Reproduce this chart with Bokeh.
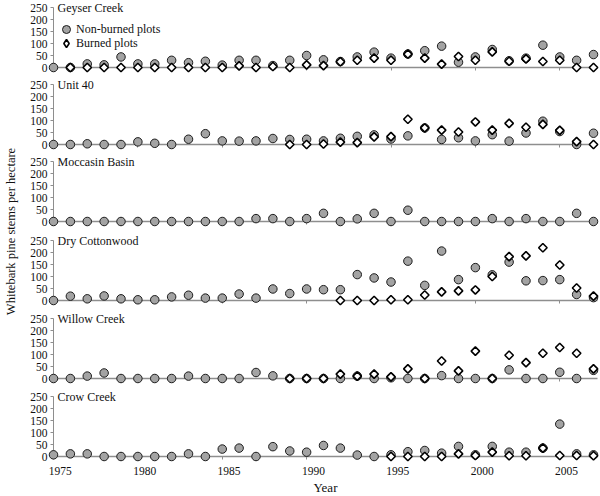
import math
import numpy as np
from bokeh.plotting import figure
from bokeh.models import (Range1d, LinearAxis, FixedTicker, Label, Legend, LegendItem,
                          ColumnDataSource, CustomJSTickFormatter)
from bokeh.layouts import column, row
from bokeh.embed import file_html
from bokeh.resources import INLINE

# ---------------- data ----------------
years = list(range(1975, 2008))
sites = ["Geyser Creek", "Unit 40", "Moccasin Basin", "Dry Cottonwood", "Willow Creek", "Crow Creek"]
y_ticks = [0, 50, 100, 150, 200, 250]
x_ticks = [1975, 1980, 1985, 1990, 1995, 2000, 2005]
legend_labels = ["Non-burned plots", "Burned plots"]

geyser_nonburned = [0, 0, 15, 11, 44, 15, 15, 30, 20, 26, 10, 30, 30, 8, 30, 50, 32, 25, 44, 64,
                    39, 56, 70, 89, 22, 44, 75, 28, 39, 93, 44, 30, 54]
geyser_burned = [None, 0, 0, 0, 0, 0, 0, 0, 0, 0, 0, 7, 0, 4, 0, 11, 8, 24, 30, 39,
                 30, 56, 39, 14, 46, 30, 65, 26, 36, 25, 30, 0, 0]

unit40_nonburned = [0, 0, 3, 0, 0, 11, 5, 0, 22, 45, 15, 14, 15, 25, 21, 22, 15, 26, 34, 40,
                    23, 36, 69, 21, 28, 15, 41, 14, 48, 97, 54, 0, 47]
unit40_burned = [None] * 14 + [0, 0, 2, 10, 8, 32, 33, 105, 69, 60, 52, 94, 60, 88, 72, 84,
                               59, 12, 0]

moccasin_nonburned = [0] * 12 + [12, 12, 0, 12, 34, 0, 11, 34, 0, 47, 0, 0, 0, 0, 12, 0, 12,
                                 0, 0, 34, 0]
moccasin_burned = [None] * 33

drycotton_nonburned = [0, 18, 7, 19, 7, 3, 3, 15, 22, 10, 10, 27, 10, 48, 29, 48, 45, 45, 108,
                       94, 77, 164, 63, 206, 87, 137, 107, 160, 82, 83, 87, 25, 12]
drycotton_burned = [None] * 17 + [0, 0, 0, 3, 3, 23, 36, 40, 44, 100, 183, 186, 220, 148, 52, 18]

willow_nonburned = [0, 0, 10, 23, 0, 0, 0, 0, 10, 0, 0, 0, 25, 11, 0, 0, 0, 0, 10, 0, 3, 0, 0,
                    12, 0, 0, 0, 36, 0, 0, 26, 0, 34]
willow_burned = [None] * 14 + [0, 0, 0, 18, 10, 18, 7, 40, 0, 73, 32, 114, 0, 97, 66, 105, 129,
                               105, 40]

crow_nonburned = [7, 11, 11, 0, 0, 0, 0, 0, 11, 0, 31, 35, 0, 41, 23, 18, 46, 35, 6, 0, 7, 20,
                  25, 14, 42, 7, 42, 18, 18, 35, 135, 11, 7]
crow_burned = [None] * 20 + [0, 0, 0, 0, 11, 4, 18, 3, 3, 35, 4, 4, 3]

nonburned = [geyser_nonburned, unit40_nonburned, moccasin_nonburned, drycotton_nonburned,
             willow_nonburned, crow_nonburned]
burned = [geyser_burned, unit40_burned, moccasin_burned, drycotton_burned, willow_burned,
          crow_burned]

# ---------------- styling / geometry ----------------
FONT = "Liberation Serif"
FILL_GRAY = "#a3a3a3"
AXIS_GRAY = "#8e8e8e"
TITLE_COL_W = 20
PANEL_W = 580
AXIS_LEFT_PX = 33
PX_PER_YEAR = 16.875
K = 60.0 / 250.0                      # px per stem unit
heights = [77, 77, 78, 78, 78, 108]
zero_from_top = [67, 67, 67, 68, 68, 68]

x_start = years[0] - AXIS_LEFT_PX / PX_PER_YEAR
x_end = x_start + PANEL_W / PX_PER_YEAR
x_range = Range1d(x_start, x_end)


def to_arr(vals):
    return np.array([np.nan if v is None else v for v in vals], dtype=float)


def make_legend(item, loc):
    return Legend(items=[item], location=loc, orientation="vertical",
                  glyph_width=20, glyph_height=20, label_height=14, spacing=0,
                  label_standoff=-2, padding=0, margin=0, border_line_color=None,
                  background_fill_alpha=0, inactive_fill_alpha=0, label_text_font=FONT,
                  label_text_font_size="12px", label_text_color="#111111")


panels = []
for i, name in enumerate(sites):
    h = heights[i]
    zt = zero_from_top[i]
    y_range = Range1d(-(h - zt) / K, zt / K)
    p = figure(width=PANEL_W, height=h, x_range=x_range, y_range=y_range,
               x_axis_type=None, y_axis_type=None, toolbar_location=None,
               output_backend="svg", min_border=0, outline_line_color=None)

    yax = LinearAxis(fixed_location=years[0], ticker=FixedTicker(ticks=y_ticks),
                     bounds=(y_ticks[0], y_ticks[-1]), axis_line_color=AXIS_GRAY,
                     axis_line_width=1, major_tick_line_color=AXIS_GRAY,
                     major_tick_in=0, major_tick_out=3, minor_tick_line_color=None,
                     major_label_text_font=FONT, major_label_text_font_size="11.5px",
                     major_label_text_color="#111111", major_label_standoff=3,
                     level="underlay")
    p.add_layout(yax, "left")

    xax = LinearAxis(fixed_location=0, ticker=FixedTicker(ticks=x_ticks),
                     bounds=(years[0], years[-1] + 0.25), axis_line_color=AXIS_GRAY,
                     axis_line_width=1.5, major_tick_line_color=AXIS_GRAY,
                     major_tick_in=0, major_tick_out=3, minor_tick_line_color=None,
                     major_label_text_color=None, level="underlay")
    p.add_layout(xax, "below")

    if i == len(sites) - 1:
        lab = LinearAxis(fixed_location=0, ticker=FixedTicker(ticks=[t + 0.4 for t in x_ticks]),
                         formatter=CustomJSTickFormatter(code="return Math.round(tick).toString()"),
                         bounds=(years[0], years[-1] + 0.25), axis_line_color=None,
                         major_tick_line_color=None, major_tick_in=0, major_tick_out=0,
                         minor_tick_line_color=None, minor_tick_out=0,
                         major_label_standoff=10, major_label_text_font=FONT,
                         major_label_text_font_size="11.5px", major_label_text_color="#111111",
                         axis_label="Year", axis_label_text_font=FONT,
                         axis_label_text_font_style="normal", axis_label_text_font_size="13px",
                         axis_label_text_color="#111111", axis_label_standoff=2)
        p.add_layout(lab, "below")

    src = ColumnDataSource(dict(year=years, nb=to_arr(nonburned[i]), b=to_arr(burned[i])))
    r_nb = p.scatter("year", "nb", source=src, marker="circle", size=8.5,
                     fill_color=FILL_GRAY, line_color="#1c1c1c", line_width=1)
    p.scatter("year", "b", source=src, marker="square", angle=math.pi / 4, size=6,
              fill_color="white", line_color="black", line_width=1.6)

    p.add_layout(Label(x=years[0], y=y_ticks[-1], x_offset=4, text=name,
                       text_baseline="middle", text_font=FONT, text_font_size="12px",
                       text_color="#111111"))

    if i == 0:
        # hidden twin of the burned series, used only as the legend swatch
        # (legend swatches are drawn unrotated, so a diamond marker is used here)
        r_leg_b = p.scatter("year", "b", source=src, marker="diamond", size=8,
                            fill_color="white", line_color="black", line_width=1.6,
                            visible=False)
        p.add_layout(make_legend(LegendItem(label=legend_labels[0], renderers=[r_nb]), (36, 38)),
                     "center")
        p.add_layout(make_legend(LegendItem(label=legend_labels[1], renderers=[r_leg_b]), (36, 24)),
                     "center")

    panels.append(p)

# y-axis title column
total_h = sum(heights)
tf = figure(width=TITLE_COL_W, height=total_h, x_range=Range1d(0, TITLE_COL_W),
            y_range=Range1d(0, total_h), x_axis_type=None, y_axis_type=None,
            toolbar_location=None, output_backend="svg", min_border=0, outline_line_color=None)
tf.add_layout(Label(x=10, y=total_h - 231, text="Whitebark pine stems per hectare",
                    angle=math.pi / 2, text_align="center", text_baseline="middle",
                    text_font=FONT, text_font_size="12.5px", text_color="#111111"))

layout = row(tf, column(*panels, spacing=0), spacing=0)

open("out.html", "w").write(file_html(layout, INLINE, title="Whitebark pine"))
